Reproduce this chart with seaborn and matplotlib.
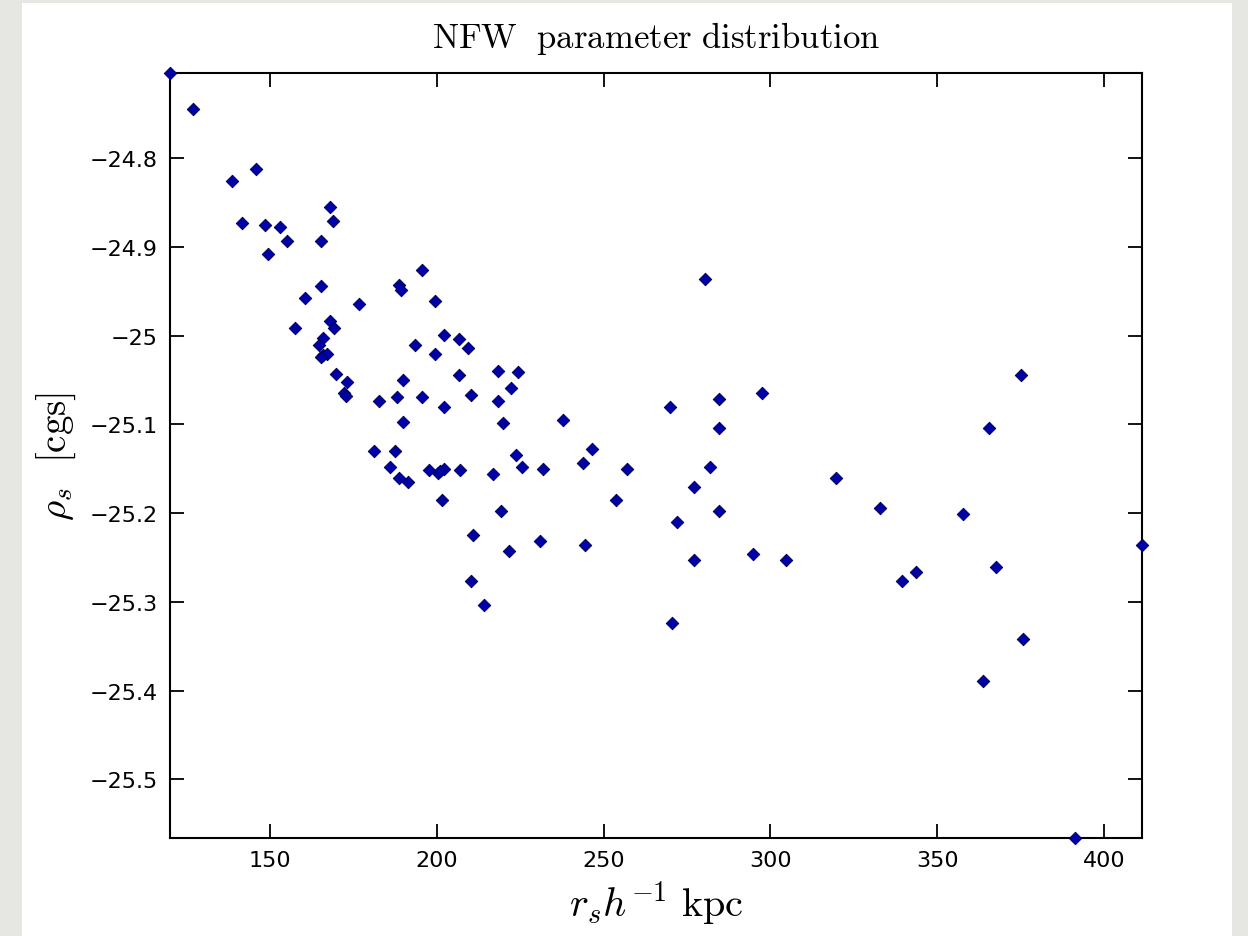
import numpy as np
import pandas as pd
import matplotlib
matplotlib.use("Agg")
import matplotlib.pyplot as plt
import seaborn as sns
from matplotlib.patches import Rectangle
from matplotlib.ticker import FixedLocator, FuncFormatter

# ---- data ----
rs = [120.0, 127.0, 138.5, 145.9, 141.7, 148.5, 153.1, 155.2, 149.3, 168.0,
      168.8, 165.3, 165.3, 160.6, 176.7, 157.4, 168.0, 169.2, 166.0, 164.7,
      166.0, 167.2, 165.4, 169.8, 173.2, 172.2, 172.7, 188.7, 189.4, 195.4,
      199.5, 202.2, 206.7, 209.4, 193.4, 199.5, 206.7, 210.2, 218.4, 218.2,
      219.7, 190.0, 188.2, 182.7, 195.4, 202.2, 190.0, 181.2, 187.4, 186.0,
      188.8, 191.5, 197.5, 200.2, 202.2, 200.8, 206.8, 216.8, 201.4, 219.2,
      210.9, 210.2, 214.2, 280.5, 224.2, 222.2, 237.7, 269.9, 284.7, 297.4,
      284.7, 223.6, 225.6, 231.7, 246.4, 243.7, 257.1, 253.8, 221.6, 231.0,
      244.4, 282.0, 277.2, 271.9, 284.7, 277.2, 294.7, 304.7, 270.6, 319.6,
      375.2, 365.6, 332.9, 357.8, 411.4, 367.7, 339.5, 343.7, 375.8, 363.8,
      391.4]
rho = [-24.704, -24.745, -24.826, -24.812, -24.873, -24.875, -24.878, -24.893, -24.908, -24.855,
       -24.871, -24.893, -24.944, -24.958, -24.964, -24.991, -24.984, -24.991, -25.003, -25.011,
       -25.022, -25.021, -25.024, -25.043, -25.052, -25.065, -25.068, -24.943, -24.948, -24.926,
       -24.961, -24.999, -25.004, -25.014, -25.011, -25.021, -25.044, -25.067, -25.040, -25.074,
       -25.098, -25.050, -25.069, -25.074, -25.069, -25.080, -25.097, -25.130, -25.130, -25.148,
       -25.160, -25.165, -25.151, -25.155, -25.150, -25.153, -25.151, -25.156, -25.185, -25.198,
       -25.225, -25.276, -25.304, -24.936, -25.041, -25.059, -25.095, -25.080, -25.071, -25.065,
       -25.104, -25.134, -25.148, -25.150, -25.128, -25.143, -25.150, -25.185, -25.243, -25.231,
       -25.236, -25.148, -25.170, -25.210, -25.198, -25.253, -25.246, -25.253, -25.324, -25.160,
       -25.044, -25.104, -25.194, -25.201, -25.236, -25.261, -25.276, -25.266, -25.342, -25.389,
       -25.566]

x_ticks = [150, 200, 250, 300, 350, 400]
y_ticks = [-25.5, -25.4, -25.3, -25.2, -25.1, -25.0, -24.9, -24.8]

title_text = r"$\mathrm{NFW\ \ parameter\ distribution}$"
x_label = r"$r_s h^{-1}\ \mathrm{kpc}$"
y_label = r"$\rho_s\ \ [\mathrm{cgs}]$"

# ---- style ----
sns.set_theme(style="white")
plt.rcParams["font.family"] = ["Liberation Sans Narrow", "DejaVu Sans"]
plt.rcParams["mathtext.fontset"] = "cm"
plt.rcParams["axes.unicode_minus"] = True

W, H = 1248, 937
fig = plt.figure(figsize=(W / 100, H / 100), dpi=100, facecolor="#e6e6e2")
bg = Rectangle((22 / W, 0), (1232 - 22) / W, (H - 4) / H,
               transform=fig.transFigure, facecolor="white",
               edgecolor="none", zorder=-10)
fig.patches.append(bg)

left, right, top, bottom = 170, 1142, 74, 839
ax = fig.add_axes([left / W, 1 - bottom / H, (right - left) / W, (bottom - top) / H])
ax.set_zorder(5)
ax.set_facecolor("white")

df = pd.DataFrame({"rs": rs, "rho": rho})
sns.scatterplot(data=df, x="rs", y="rho", marker="D", s=40, color="#0000a8",
                edgecolor="#00005a", linewidth=0.7, ax=ax, zorder=3, clip_on=False,
                legend=False)

ax.set_xlim(min(rs), max(rs))
ax.set_ylim(min(rho), max(rho))
ax.xaxis.set_major_locator(FixedLocator(x_ticks))
ax.yaxis.set_major_locator(FixedLocator(y_ticks))
ax.xaxis.set_major_formatter(FuncFormatter(lambda v, p: f"{v:g}"))
ax.yaxis.set_major_formatter(FuncFormatter(lambda v, p: f"{v:g}".replace("-", "\u2212")))

for sp in ax.spines.values():
    sp.set_visible(True)
    sp.set_color("black")
    sp.set_linewidth(1.5)

ax.tick_params(direction="in", length=10, width=1.3, top=True, right=True,
               bottom=True, left=True, labelsize=16, pad=9, colors="black")

ax.set_xlabel(x_label, fontsize=29, color="black", labelpad=6)
ax.set_ylabel(y_label, fontsize=28, color="black", labelpad=8)
ax.set_title(title_text, fontsize=25, color="black", pad=19)

fig.savefig("out.png", dpi=100, facecolor=fig.get_facecolor())
